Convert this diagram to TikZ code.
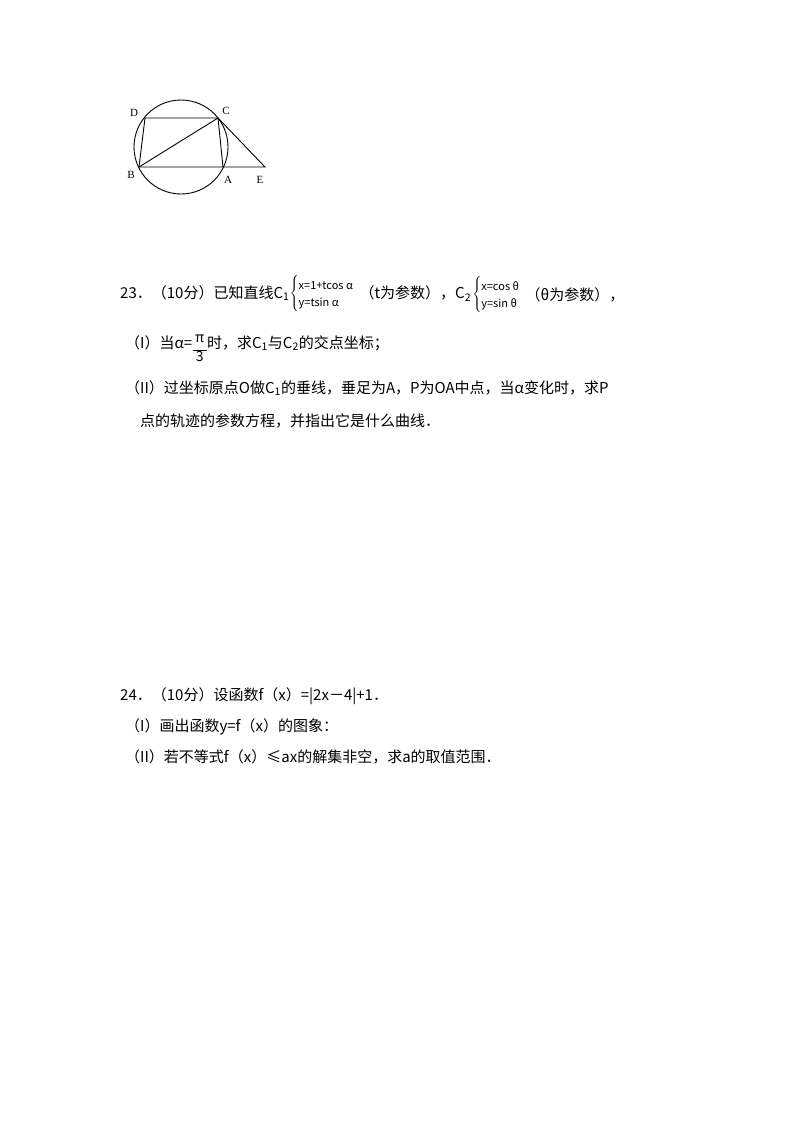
\documentclass[tikz,border=0pt]{standalone}
\usepackage{fontspec}
\setmainfont{Noto Sans CJK SC}
\newfontfamily\serifm{Liberation Serif}
\begin{document}
\begin{tikzpicture}[x=1pt,y=-1pt,
  txt/.style={anchor=base west,inner sep=0pt,font=\fontsize{15}{18}\selectfont},
  chn/.style={anchor=west,inner sep=1pt,font=\fontsize{15}{18}\selectfont},
  lab/.style={inner sep=0pt,font=\serifm\fontsize{11}{13}\selectfont},
  ln/.style={line width=0.9pt}]
\useasboundingbox (0,0) rectangle (800,1132);
\draw[ln] (181,147) circle (47);
\coordinate (D) at (145,118); \coordinate (C) at (218,118);
\coordinate (B) at (139,167); \coordinate (A) at (223,167); \coordinate (E) at (265,167);
\draw[ln] (B)--(D)--(C)--(A)--(B); \draw[ln] (B)--(C); \draw[ln] (A)--(E)--(C);
\node[lab] (lD) at (134,113) {D}; \node[lab] (lC) at (226,111) {C};
\node[lab] (lB) at (131,175) {B}; \node[lab] (lA) at (228,180) {A}; \node[lab] (lE) at (260,180) {E};
\node[txt] (t23) at (120,298) {23．（10分）已知直线C\textsubscript{1}};
\node[chn,inner sep=0pt] (s1) at ([yshift=-1pt]t23.east) {$\left\{\fontsize{11}{17}\selectfont\begin{tabular}{@{}l@{}}x=1+tcos α\\ y=tsin α\end{tabular}\right.$};
\node[chn] (t23b) at ([xshift=4pt]s1.east) {（t为参数），C\textsubscript{2}};
\node[chn,inner sep=0pt] (s2) at ([yshift=-1pt]t23b.east) {$\left\{\fontsize{11}{17}\selectfont\begin{tabular}{@{}l@{}}x=cos θ\\ y=sin θ\end{tabular}\right.$};
\node[chn] (t23c) at ([xshift=4pt]s2.east) {（θ为参数），};
\node[txt] (p1) at (125,348) {（I）当α=};
\node[anchor=west,inner sep=0pt] (fr) at ([yshift=-7pt]p1.east) {\fontsize{14}{14}\selectfont\begin{tabular}{@{}c@{}}π\\[-6pt]\rule{14pt}{0.6pt}\\[-4pt]3\end{tabular}};
\node[txt] (p1b) at (fr.east |- p1.base) {时，求C\textsubscript{1}与C\textsubscript{2}的交点坐标；};
\node[txt] (p2) at (125,393) {（II）过坐标原点O做C\textsubscript{1}的垂线，垂足为A，P为OA中点，当α变化时，求P};
\node[txt] (p2b) at (140,426) {点的轨迹的参数方程，并指出它是什么曲线．};
\node[txt] (t24) at (120,700) {24．（10分）设函数f（x）=|2x－4|+1．};
\node[txt] (q1) at (125,731) {（I）画出函数y=f（x）的图象：};
\node[txt] (q2) at (125,762) {（II）若不等式f（x）≤ax的解集非空，求a的取值范围．};
\end{tikzpicture}
\end{document}
